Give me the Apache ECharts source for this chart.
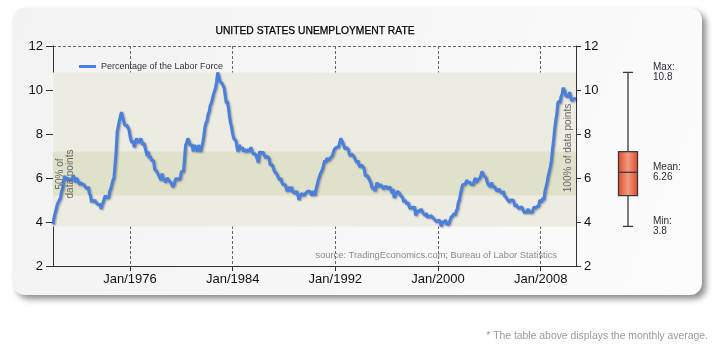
<!DOCTYPE html>
<html>
<head>
<meta charset="utf-8">
<script src="https://cdn.jsdelivr.net/npm/echarts@6/dist/echarts.min.js"></script>
<style>
html,body{margin:0;padding:0;background:#ffffff;}
#chart{width:726px;height:359px;}
</style>
</head>
<body>
<div id="chart"></div>
<script>
// ---- data (monthly US unemployment rate, % of labor force), Jan 1970 onward ----
const startYear = 1970;
const monthNames = ['Jan','Feb','Mar','Apr','May','Jun','Jul','Aug','Sep','Oct','Nov','Dec'];
const unemployment = [
  3.9,4.2,4.4,4.6,4.8,4.9,5.0,5.1,5.4,5.5,5.9,6.1,
  5.9,5.9,6.0,5.9,5.9,5.9,6.0,6.1,6.0,5.8,6.0,6.0,
  5.8,5.7,5.8,5.7,5.7,5.7,5.6,5.6,5.5,5.6,5.3,5.2,
  4.9,5.0,4.9,5.0,4.9,4.9,4.8,4.8,4.8,4.6,4.8,4.9,
  5.1,5.2,5.1,5.1,5.1,5.4,5.5,5.5,5.9,6.0,6.6,7.2,
  8.1,8.1,8.6,8.8,9.0,8.8,8.6,8.4,8.4,8.4,8.3,8.2,
  7.9,7.7,7.6,7.7,7.4,7.6,7.8,7.8,7.6,7.7,7.8,7.8,
  7.5,7.6,7.4,7.2,7.0,7.2,6.9,7.0,6.8,6.8,6.8,6.4,
  6.4,6.3,6.3,6.1,6.0,5.9,6.2,5.9,6.0,5.8,5.9,6.0,
  5.9,5.9,5.8,5.8,5.6,5.7,5.7,6.0,5.9,6.0,5.9,6.0,
  6.3,6.3,6.3,6.9,7.5,7.6,7.8,7.7,7.5,7.5,7.5,7.2,
  7.5,7.4,7.4,7.2,7.5,7.5,7.2,7.4,7.6,7.9,8.3,8.5,
  8.6,8.9,9.0,9.3,9.4,9.6,9.8,9.8,10.1,10.4,10.8,10.8,
  10.4,10.4,10.3,10.2,10.1,10.1,9.4,9.5,9.2,8.8,8.5,8.3,
  8.0,7.8,7.8,7.7,7.4,7.2,7.5,7.5,7.3,7.4,7.2,7.3,
  7.3,7.2,7.2,7.3,7.2,7.4,7.4,7.1,7.1,7.1,7.0,7.0,
  6.7,7.2,7.2,7.1,7.2,7.2,7.0,6.9,7.0,7.0,6.9,6.6,
  6.6,6.6,6.6,6.3,6.3,6.2,6.1,6.0,5.9,6.0,5.8,5.7,
  5.7,5.7,5.7,5.4,5.6,5.4,5.4,5.6,5.4,5.4,5.3,5.3,
  5.4,5.2,5.0,5.2,5.2,5.3,5.2,5.2,5.3,5.3,5.4,5.4,
  5.4,5.3,5.2,5.4,5.4,5.2,5.5,5.7,5.9,5.9,6.2,6.3,
  6.4,6.6,6.8,6.7,6.9,6.9,6.8,6.9,6.9,7.0,7.0,7.3,
  7.3,7.4,7.4,7.4,7.6,7.8,7.7,7.6,7.6,7.3,7.4,7.4,
  7.3,7.1,7.0,7.1,7.1,7.0,6.9,6.8,6.7,6.8,6.6,6.5,
  6.6,6.6,6.5,6.4,6.1,6.1,6.1,6.0,5.9,5.8,5.6,5.5,
  5.6,5.4,5.4,5.8,5.6,5.6,5.7,5.7,5.6,5.5,5.6,5.6,
  5.6,5.5,5.5,5.6,5.6,5.3,5.5,5.1,5.2,5.2,5.4,5.4,
  5.3,5.2,5.2,5.1,4.9,5.0,4.9,4.8,4.9,4.7,4.6,4.7,
  4.6,4.6,4.7,4.3,4.4,4.5,4.5,4.5,4.6,4.5,4.4,4.4,
  4.3,4.4,4.2,4.3,4.2,4.3,4.3,4.2,4.2,4.1,4.1,4.0,
  4.0,4.1,4.0,3.8,4.0,4.0,4.0,4.1,3.9,3.9,3.9,3.9,
  4.2,4.2,4.3,4.4,4.3,4.5,4.6,4.9,5.0,5.3,5.5,5.7,
  5.7,5.7,5.7,5.9,5.8,5.8,5.8,5.7,5.7,5.7,5.9,6.0,
  5.8,5.9,5.9,6.0,6.1,6.3,6.2,6.1,6.1,6.0,5.8,5.7,
  5.7,5.6,5.8,5.6,5.6,5.6,5.5,5.4,5.4,5.5,5.4,5.4,
  5.3,5.4,5.2,5.2,5.1,5.0,5.0,4.9,5.0,5.0,5.0,4.9,
  4.7,4.8,4.7,4.7,4.6,4.6,4.7,4.7,4.5,4.4,4.5,4.4,
  4.6,4.5,4.4,4.5,4.4,4.6,4.7,4.6,4.7,4.7,4.7,5.0,
  5.0,4.9,5.1,5.0,5.4,5.6,5.8,6.1,6.1,6.5,6.8,7.3,
  7.7,8.2,8.6,8.9,9.4,9.5,9.4,9.7,9.8,10.1,10.0,10.0,
  9.7,9.7,9.7,9.9,9.7,9.5,9.5,9.6,9.6,9.6
];
// summary statistics shown in the side box plot
const statMin = 3.8;
const statQ1 = 5.2;
const statMean = 6.26;
const statQ3 = 7.2;
const statMax = 10.8;
// y-axis ticks
const yMin = 2, yMax = 12, yStep = 2;
const labelEveryYears = 8, firstLabelYear = 1976;

const categories = unemployment.map((_, i) =>
  monthNames[i % 12] + '/' + (startYear + Math.floor(i / 12)));

const showAt = (idx, val) => {
  const v = String(val);
  if (!v.startsWith('Jan/')) return false;
  const y = parseInt(v.slice(4), 10);
  return y >= firstLabelYear && (y - firstLabelYear) % labelEveryYears === 0;
};

const chart = echarts.init(document.getElementById('chart'), null, {renderer: 'canvas'});
const FONT = '"Liberation Sans", Arial, sans-serif';

const option = {
  animation: false,
  backgroundColor: '#ffffff',
  graphic: [
    {
      type: 'rect', z: -10, silent: true,
      shape: {x: 13, y: 8, width: 689, height: 287, r: 12},
      style: {
        fill: new echarts.graphic.LinearGradient(0, 0, 1, 1, [
          {offset: 0, color: '#f2f2f2'}, {offset: 1, color: '#fcfcfc'}]),
        shadowColor: 'rgba(0,0,0,0.45)', shadowBlur: 6, shadowOffsetX: 4, shadowOffsetY: 4
      }
    },
    {
      type: 'text', z: 10, silent: true,
      style: {x: 315, y: 31, text: 'UNITED STATES UNEMPLOYMENT RATE', fill: '#000000',
        font: '10.3px ' + FONT, textAlign: 'center', textVerticalAlign: 'middle',
        stroke: '#000000', lineWidth: 0.25}
    },
    {
      type: 'text', z: 10, silent: true,
      style: {x: 557, y: 255, text: 'source: TradingEconomics.com; Bureau of Labor Statistics', fill: '#8a8a8a',
        font: '9.3px ' + FONT, textAlign: 'right', textVerticalAlign: 'middle'}
    },
    {
      type: 'text', z: 10, silent: true,
      style: {x: 708, y: 336, text: '* The table above displays the monthly average.', fill: '#9a9a9a',
        font: '10.4px ' + FONT, textAlign: 'right', textVerticalAlign: 'middle'}
    },
    {
      type: 'text', z: 10, silent: true, x: 65, y: 174, rotation: Math.PI / 2,
      style: {x: 0, y: 0, text: '50% of\ndata points', fill: '#666666', lineHeight: 10,
        font: '10px ' + FONT, textAlign: 'center', textVerticalAlign: 'middle'}
    },
    {
      type: 'text', z: 10, silent: true, x: 568, y: 148, rotation: Math.PI / 2,
      style: {x: 0, y: 0, text: '100% of data points', fill: '#666666',
        font: '10px ' + FONT, textAlign: 'center', textVerticalAlign: 'middle'}
    }
  ],
  legend: {
    left: 74, top: 57, icon: 'rect', itemWidth: 17, itemHeight: 3,
    textStyle: {fontFamily: FONT, fontSize: 9, color: '#333'},
    data: ['Percentage of the Labor Force']
  },
  grid: [
    {left: 53, right: 150, top: 46, bottom: 93},
    {left: 608, width: 40, top: 46, bottom: 93}
  ],
  xAxis: [
    {
      type: 'category', gridIndex: 0, data: categories, boundaryGap: false,
      axisLine: {lineStyle: {color: '#333', width: 1}},
      axisTick: {interval: showAt, length: 5, lineStyle: {color: '#333'}},
      axisLabel: {interval: showAt, margin: 7, fontFamily: FONT, fontSize: 13, color: '#111',
        formatter: v => v},
      splitLine: {show: true, interval: showAt, lineStyle: {color: '#666', type: [3, 2], width: 1}}
    },
    {type: 'value', gridIndex: 1, min: -1, max: 1, show: false}
  ],
  yAxis: [
    {
      type: 'value', gridIndex: 0, min: yMin, max: yMax, interval: yStep, position: 'left',
      axisLine: {show: true, lineStyle: {color: '#333'}},
      axisTick: {show: true, length: 7, lineStyle: {color: '#333'}},
      axisLabel: {margin: 10, fontFamily: FONT, fontSize: 13, color: '#111'},
      splitLine: {show: true, lineStyle: {color: '#666', type: [3, 2], width: 1}}
    },
    {
      type: 'value', gridIndex: 0, min: yMin, max: yMax, interval: yStep, position: 'right',
      axisLine: {show: true, onZero: false, lineStyle: {color: '#333'}},
      axisTick: {show: true, length: 5, lineStyle: {color: '#333'}},
      axisLabel: {margin: 8, fontFamily: FONT, fontSize: 13, color: '#111'},
      splitLine: {show: false}
    },
    {type: 'value', gridIndex: 1, min: yMin, max: yMax, show: false}
  ],
  series: [
    {
      name: 'Percentage of the Labor Force', type: 'line', xAxisIndex: 0, yAxisIndex: 0,
      data: unemployment, showSymbol: false, symbol: 'none', z: 5,
      color: '#4a7fdd',
      lineStyle: {width: 3, color: '#4a7fdd', shadowColor: 'rgba(0,0,0,0.35)', shadowBlur: 2,
        shadowOffsetX: 1, shadowOffsetY: 1},
      markArea: {
        silent: true, z: 1,
        data: [
          [{yAxis: statMin, itemStyle: {color: '#ececE3'}}, {yAxis: statMax}],
          [{yAxis: statQ1, itemStyle: {color: '#e0e1ca'}}, {yAxis: statQ3}]
        ]
      }
    },
    {
      type: 'custom', xAxisIndex: 1, yAxisIndex: 2, silent: true,
      data: [[0, statMin, statQ1, statMean, statQ3, statMax]],
      renderItem: (params, api) => {
        const cx = api.coord([0, api.value(3)])[0];
        const yMinP = api.coord([0, api.value(1)])[1];
        const yQ1 = api.coord([0, api.value(2)])[1];
        const yMean = api.coord([0, api.value(3)])[1];
        const yQ3 = api.coord([0, api.value(4)])[1];
        const yMaxP = api.coord([0, api.value(5)])[1];
        const bw = 19, cw = 10;
        const ls = {stroke: '#3a3a3a', lineWidth: 1.3};
        const lab = (txt, y) => ({type: 'text', style: {x: cx + 25, y: y, text: txt, fill: '#2b2b33',
          font: '10px ' + FONT, lineHeight: 10, textAlign: 'left', textVerticalAlign: 'middle'}});
        return {type: 'group', children: [
          {type: 'line', shape: {x1: cx, y1: yMaxP, x2: cx, y2: yQ3}, style: ls},
          {type: 'line', shape: {x1: cx, y1: yQ1, x2: cx, y2: yMinP}, style: ls},
          {type: 'line', shape: {x1: cx - cw / 2, y1: yMaxP, x2: cx + cw / 2, y2: yMaxP}, style: ls},
          {type: 'line', shape: {x1: cx - cw / 2, y1: yMinP, x2: cx + cw / 2, y2: yMinP}, style: ls},
          {type: 'rect', shape: {x: cx - bw / 2, y: yQ3, width: bw, height: yQ1 - yQ3},
            style: {fill: new echarts.graphic.LinearGradient(0, 0, 1, 0, [
              {offset: 0, color: '#dc4a2c'}, {offset: 0.5, color: '#f29a7c'}, {offset: 1, color: '#dc4a2c'}]),
              stroke: '#3a3a3a', lineWidth: 1.3}},
          {type: 'line', shape: {x1: cx - bw / 2, y1: yMean, x2: cx + bw / 2, y2: yMean}, style: ls},
          lab('Max:\n' + api.value(5), yMaxP),
          lab('Mean:\n' + api.value(3), yMean),
          lab('Min:\n' + api.value(1), yMinP)
        ]};
      }
    }
  ]
};
chart.setOption(option);
</script>
</body>
</html>
